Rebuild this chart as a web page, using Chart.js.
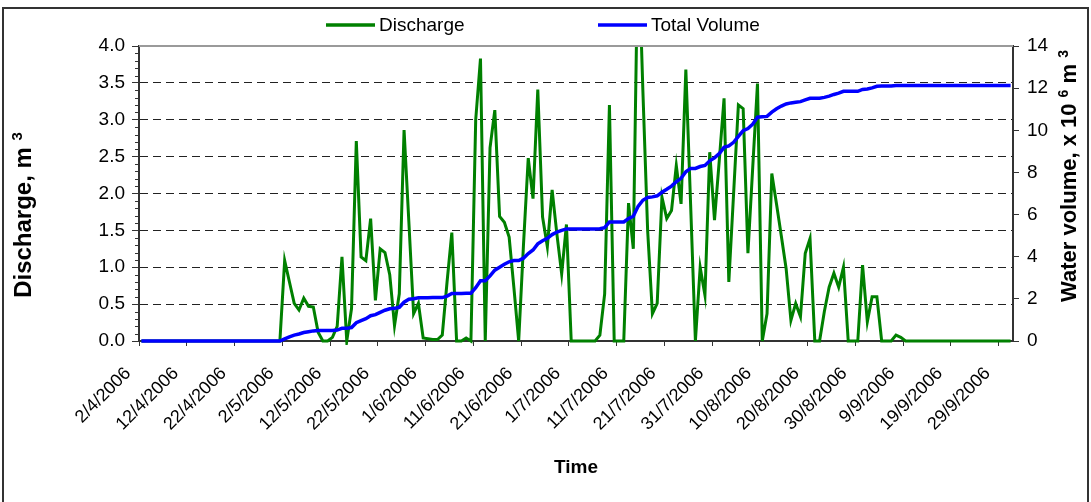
<!DOCTYPE html>
<html>
<head>
<meta charset="utf-8">
<title>Discharge and Total Volume</title>
<script src="https://cdn.jsdelivr.net/npm/chart.js@4.4.1/dist/chart.umd.min.js"></script>
<style>
  html, body { margin: 0; padding: 0; background: #ffffff; }
  canvas { display: block; }
</style>
</head>
<body>
<canvas id="chart" width="1091" height="502"></canvas>
<script>
// One value per day, starting 2/4/2006 (183 days, to 1/10/2006)
const discharge = [
  0, 0, 0, 0, 0, 0, 0, 0, 0, 0,
  0, 0, 0, 0, 0, 0, 0, 0, 0, 0,
  0, 0, 0, 0, 0, 0, 0, 0, 0, 0,
  1.09, 0.80, 0.51, 0.42, 0.58, 0.47, 0.46, 0.12, 0, 0,
  0.05, 0.2, 1.14, 0, 0.44, 2.71, 1.14, 1.09, 1.66, 0.55,
  1.25, 1.2, 0.9, 0.21, 0.64, 2.86, 1.62, 0.37, 0.51, 0.04,
  0.03, 0.02, 0.02, 0.08, 0.8, 1.47, 0, 0, 0.04, 0,
  3.0, 3.83, 0, 2.62, 3.13, 1.69, 1.61, 1.41, 0.72, 0,
  1.3, 2.48, 1.93, 3.41, 1.68, 1.28, 2.05, 1.45, 0.91, 1.58,
  0, 0, 0, 0, 0, 0, 0.08, 0.64, 3.2, 0,
  0, 0, 1.87, 1.25, 5.5, 3.4, 1.5, 0.37, 0.51, 1.95,
  1.66, 1.77, 2.38, 1.86, 3.68, 1.85, 0, 1.0, 0.62, 2.56,
  1.64, 2.45, 3.29, 0.8, 2.0, 3.2, 3.15, 1.19, 2.35, 3.49,
  0, 0.37, 2.27, 1.85, 1.42, 0.98, 0.28, 0.51, 0.33, 1.19,
  1.39, 0, 0, 0.4, 0.73, 0.92, 0.73, 1.0, 0, 0,
  0, 1.03, 0.26, 0.6, 0.6, 0, 0, 0, 0.08, 0.05,
  0, 0, 0, 0, 0, 0, 0, 0, 0, 0,
  0, 0, 0, 0, 0, 0, 0, 0, 0, 0,
  0, 0, 0
];

const totalVolume = [
  0, 0, 0, 0, 0, 0, 0, 0, 0, 0,
  0, 0, 0, 0, 0, 0, 0, 0, 0, 0,
  0, 0, 0, 0, 0, 0, 0, 0, 0, 0,
  0.1, 0.2, 0.28, 0.33, 0.4, 0.44, 0.48, 0.5, 0.5, 0.5,
  0.5, 0.52, 0.6, 0.6, 0.64, 0.87, 0.97, 1.06, 1.2, 1.25,
  1.36, 1.46, 1.53, 1.55, 1.6, 1.84, 1.98, 2.01, 2.05, 2.05,
  2.05, 2.06, 2.06, 2.06, 2.13, 2.26, 2.26, 2.26, 2.27, 2.27,
  2.53, 2.86, 2.86, 3.09, 3.36, 3.5, 3.64, 3.76, 3.82, 3.82,
  3.93, 4.15, 4.32, 4.61, 4.76, 4.87, 5.05, 5.17, 5.25, 5.32,
  5.32, 5.32, 5.32, 5.32, 5.32, 5.32, 5.33, 5.38, 5.65, 5.65,
  5.65, 5.65, 5.81, 5.92, 6.39, 6.68, 6.81, 6.84, 6.89, 7.06,
  7.2, 7.35, 7.56, 7.72, 8.03, 8.19, 8.19, 8.28, 8.33, 8.55,
  8.69, 8.9, 9.19, 9.26, 9.43, 9.71, 9.98, 10.08, 10.29, 10.62,
  10.64, 10.66, 10.86, 11.02, 11.15, 11.25, 11.3, 11.33, 11.36, 11.44,
  11.52, 11.52, 11.52, 11.56, 11.62, 11.7, 11.76, 11.85, 11.85, 11.85,
  11.85, 11.94, 11.96, 12.01, 12.09, 12.1, 12.1, 12.1, 12.12, 12.12,
  12.12, 12.12, 12.12, 12.12, 12.12, 12.12, 12.12, 12.12, 12.12, 12.12,
  12.12, 12.12, 12.12, 12.12, 12.12, 12.12, 12.12, 12.12, 12.12, 12.12,
  12.12, 12.12, 12.12
];

// Date axis: tick every 10 days, counted from 2/4/2006
const tickDays = [0, 10, 20, 30, 40, 50, 60, 70, 80, 90, 100, 110, 120, 130, 140, 150, 160, 170, 180];
const dateTickLabels = [
  '2/4/2006', '12/4/2006', '22/4/2006', '2/5/2006', '12/5/2006', '22/5/2006',
  '1/6/2006', '11/6/2006', '21/6/2006', '1/7/2006', '11/7/2006', '21/7/2006',
  '31/7/2006', '10/8/2006', '20/8/2006', '30/8/2006', '9/9/2006', '19/9/2006', '29/9/2006'
];
const dischargeTicks = [0, 0.5, 1.0, 1.5, 2.0, 2.5, 3.0, 3.5, 4.0];
const volumeTicks = [0, 2, 4, 6, 8, 10, 12, 14];

const FONT = "'Liberation Sans', Arial, Helvetica, sans-serif";
const AXIS_COLOR = '#333333';

// each daily value sits in the middle of its day slot
const asPoints = arr => arr.map((v, i) => ({ x: i + 0.5, y: v }));

function drawRichText(ctx, parts, cx, cy, rotation) {
  ctx.save();
  ctx.translate(cx, cy);
  ctx.rotate(rotation);
  ctx.textAlign = 'left';
  ctx.textBaseline = 'alphabetic';
  ctx.fillStyle = '#000000';
  let total = 0;
  parts.forEach(p => { ctx.font = p.font; p.w = ctx.measureText(p.text).width; total += p.w; });
  let x = -total / 2;
  parts.forEach(p => { ctx.font = p.font; ctx.fillText(p.text, x, p.dy); x += p.w; });
  ctx.restore();
}

const decorations = {
  id: 'decorations',
  beforeDraw(chart) {
    const ctx = chart.ctx;
    ctx.save();
    ctx.fillStyle = '#ffffff';
    ctx.fillRect(0, 0, chart.width, chart.height);
    ctx.strokeStyle = '#333333';
    ctx.lineWidth = 2;
    ctx.strokeRect(3, 8, chart.width - 6, chart.height + 20);
    ctx.restore();
  },
  afterDatasetsDraw(chart) {
    const { ctx, chartArea: a, scales } = chart;
    ctx.save();
    // plot frame top edge
    ctx.strokeStyle = '#9a9a9a';
    ctx.lineWidth = 2;
    ctx.beginPath();
    ctx.moveTo(a.left, a.top);
    ctx.lineTo(a.right, a.top);
    ctx.stroke();
    // minor ticks on the discharge axis (every 0.1)
    ctx.strokeStyle = AXIS_COLOR;
    ctx.lineWidth = 1;
    for (let k = 1; k < 40; k++) {
      if (k % 5 === 0) continue;
      const py = Math.round(scales.y.getPixelForValue(k / 10)) + 0.5;
      ctx.beginPath();
      ctx.moveTo(a.left - 4, py);
      ctx.lineTo(a.left, py);
      ctx.stroke();
    }
    ctx.restore();
  },
  afterDraw(chart) {
    const { ctx, chartArea: a } = chart;
    ctx.save();
    // legend
    const items = [
      { ds: chart.data.datasets[1], x: 326 },
      { ds: chart.data.datasets[0], x: 598 }
    ];
    const ly = 25;
    ctx.font = `19px ${FONT}`;
    ctx.textBaseline = 'middle';
    ctx.textAlign = 'left';
    items.forEach(it => {
      ctx.strokeStyle = it.ds.borderColor;
      ctx.lineWidth = 3.5;
      ctx.beginPath();
      ctx.moveTo(it.x, ly);
      ctx.lineTo(it.x + 49, ly);
      ctx.stroke();
      ctx.fillStyle = '#000000';
      ctx.fillText(it.ds.label, it.x + 53, ly + 1);
    });
    ctx.restore();

    // axis titles
    drawRichText(ctx, [
      { text: 'Discharge, m ', font: `bold 24px ${FONT}`, dy: 8.5 },
      { text: '3', font: `bold 15px ${FONT}`, dy: 0 }
    ], 22, 215, -Math.PI / 2);
    drawRichText(ctx, [
      { text: 'Water volume, x 10 ', font: `bold 22px ${FONT}`, dy: 8 },
      { text: '6', font: `bold 14px ${FONT}`, dy: 0 },
      { text: ' m ', font: `bold 22px ${FONT}`, dy: 8 },
      { text: '3', font: `bold 14px ${FONT}`, dy: 0 }
    ], 1068, 176, -Math.PI / 2);
    drawRichText(ctx, [
      { text: 'Time', font: `bold 19px ${FONT}`, dy: 7 }
    ], (a.left + a.right) / 2, 466, 0);
  }
};

const chart = new Chart(document.getElementById('chart'), {
  type: 'line',
  data: {
    datasets: [
      {
        label: 'Total Volume',
        data: asPoints(totalVolume),
        yAxisID: 'y2',
        borderColor: '#0000ff',
        borderWidth: 3.5,
        pointRadius: 0,
        tension: 0,
        order: 0,
        clip: { left: 4, right: 4, top: 0, bottom: 4 }
      },
      {
        label: 'Discharge',
        data: asPoints(discharge),
        yAxisID: 'y',
        borderColor: '#008000',
        borderWidth: 3,
        pointRadius: 0,
        tension: 0,
        order: 1,
        clip: { left: 4, right: 4, top: 0, bottom: 4 }
      }
    ]
  },
  options: {
    responsive: false,
    devicePixelRatio: 1,
    animation: false,
    events: [],
    layout: { padding: { top: 46, left: 0, right: 0, bottom: 0 } },
    plugins: { legend: { display: false }, tooltip: { enabled: false } },
    scales: {
      x: {
        type: 'linear',
        min: 0,
        max: discharge.length,
        afterBuildTicks: s => { s.ticks = tickDays.map(v => ({ value: v })); },
        afterFit: s => { s.height = 161; },
        ticks: {
          autoSkip: false,
          minRotation: 45,
          maxRotation: 45,
          padding: 17,
          labelOffset: -11,
          color: '#000000',
          font: { family: FONT, size: 18 },
          callback: (v, i) => dateTickLabels[i]
        },
        grid: { drawOnChartArea: false, tickLength: 5, tickColor: AXIS_COLOR, color: AXIS_COLOR },
        border: { color: AXIS_COLOR, width: 2 }
      },
      y: {
        type: 'linear',
        position: 'left',
        min: 0,
        max: 4,
        afterBuildTicks: s => { s.ticks = dischargeTicks.map(v => ({ value: v })); },
        afterFit: s => { s.width = 139; },
        ticks: {
          padding: 7,
          color: '#000000',
          font: { family: FONT, size: 19 },
          callback: v => Number(v).toFixed(1)
        },
        grid: {
          tickLength: 7,
          tickColor: AXIS_COLOR,
          lineWidth: 1,
          color: c => (c.tick && (c.tick.value === 0 || c.tick.value === 4)) ? 'rgba(0,0,0,0)' : '#222222'
        },
        border: { color: AXIS_COLOR, width: 2, dash: [8, 5] }
      },
      y2: {
        type: 'linear',
        position: 'right',
        min: 0,
        max: 14,
        afterBuildTicks: s => { s.ticks = volumeTicks.map(v => ({ value: v })); },
        afterFit: s => { s.width = 78; },
        ticks: {
          padding: 8,
          color: '#000000',
          font: { family: FONT, size: 19 },
          callback: v => String(v)
        },
        grid: { drawOnChartArea: false, tickLength: 6, tickColor: AXIS_COLOR, color: AXIS_COLOR },
        border: { color: AXIS_COLOR, width: 2 }
      }
    }
  },
  plugins: [decorations]
});
</script>
</body>
</html>
